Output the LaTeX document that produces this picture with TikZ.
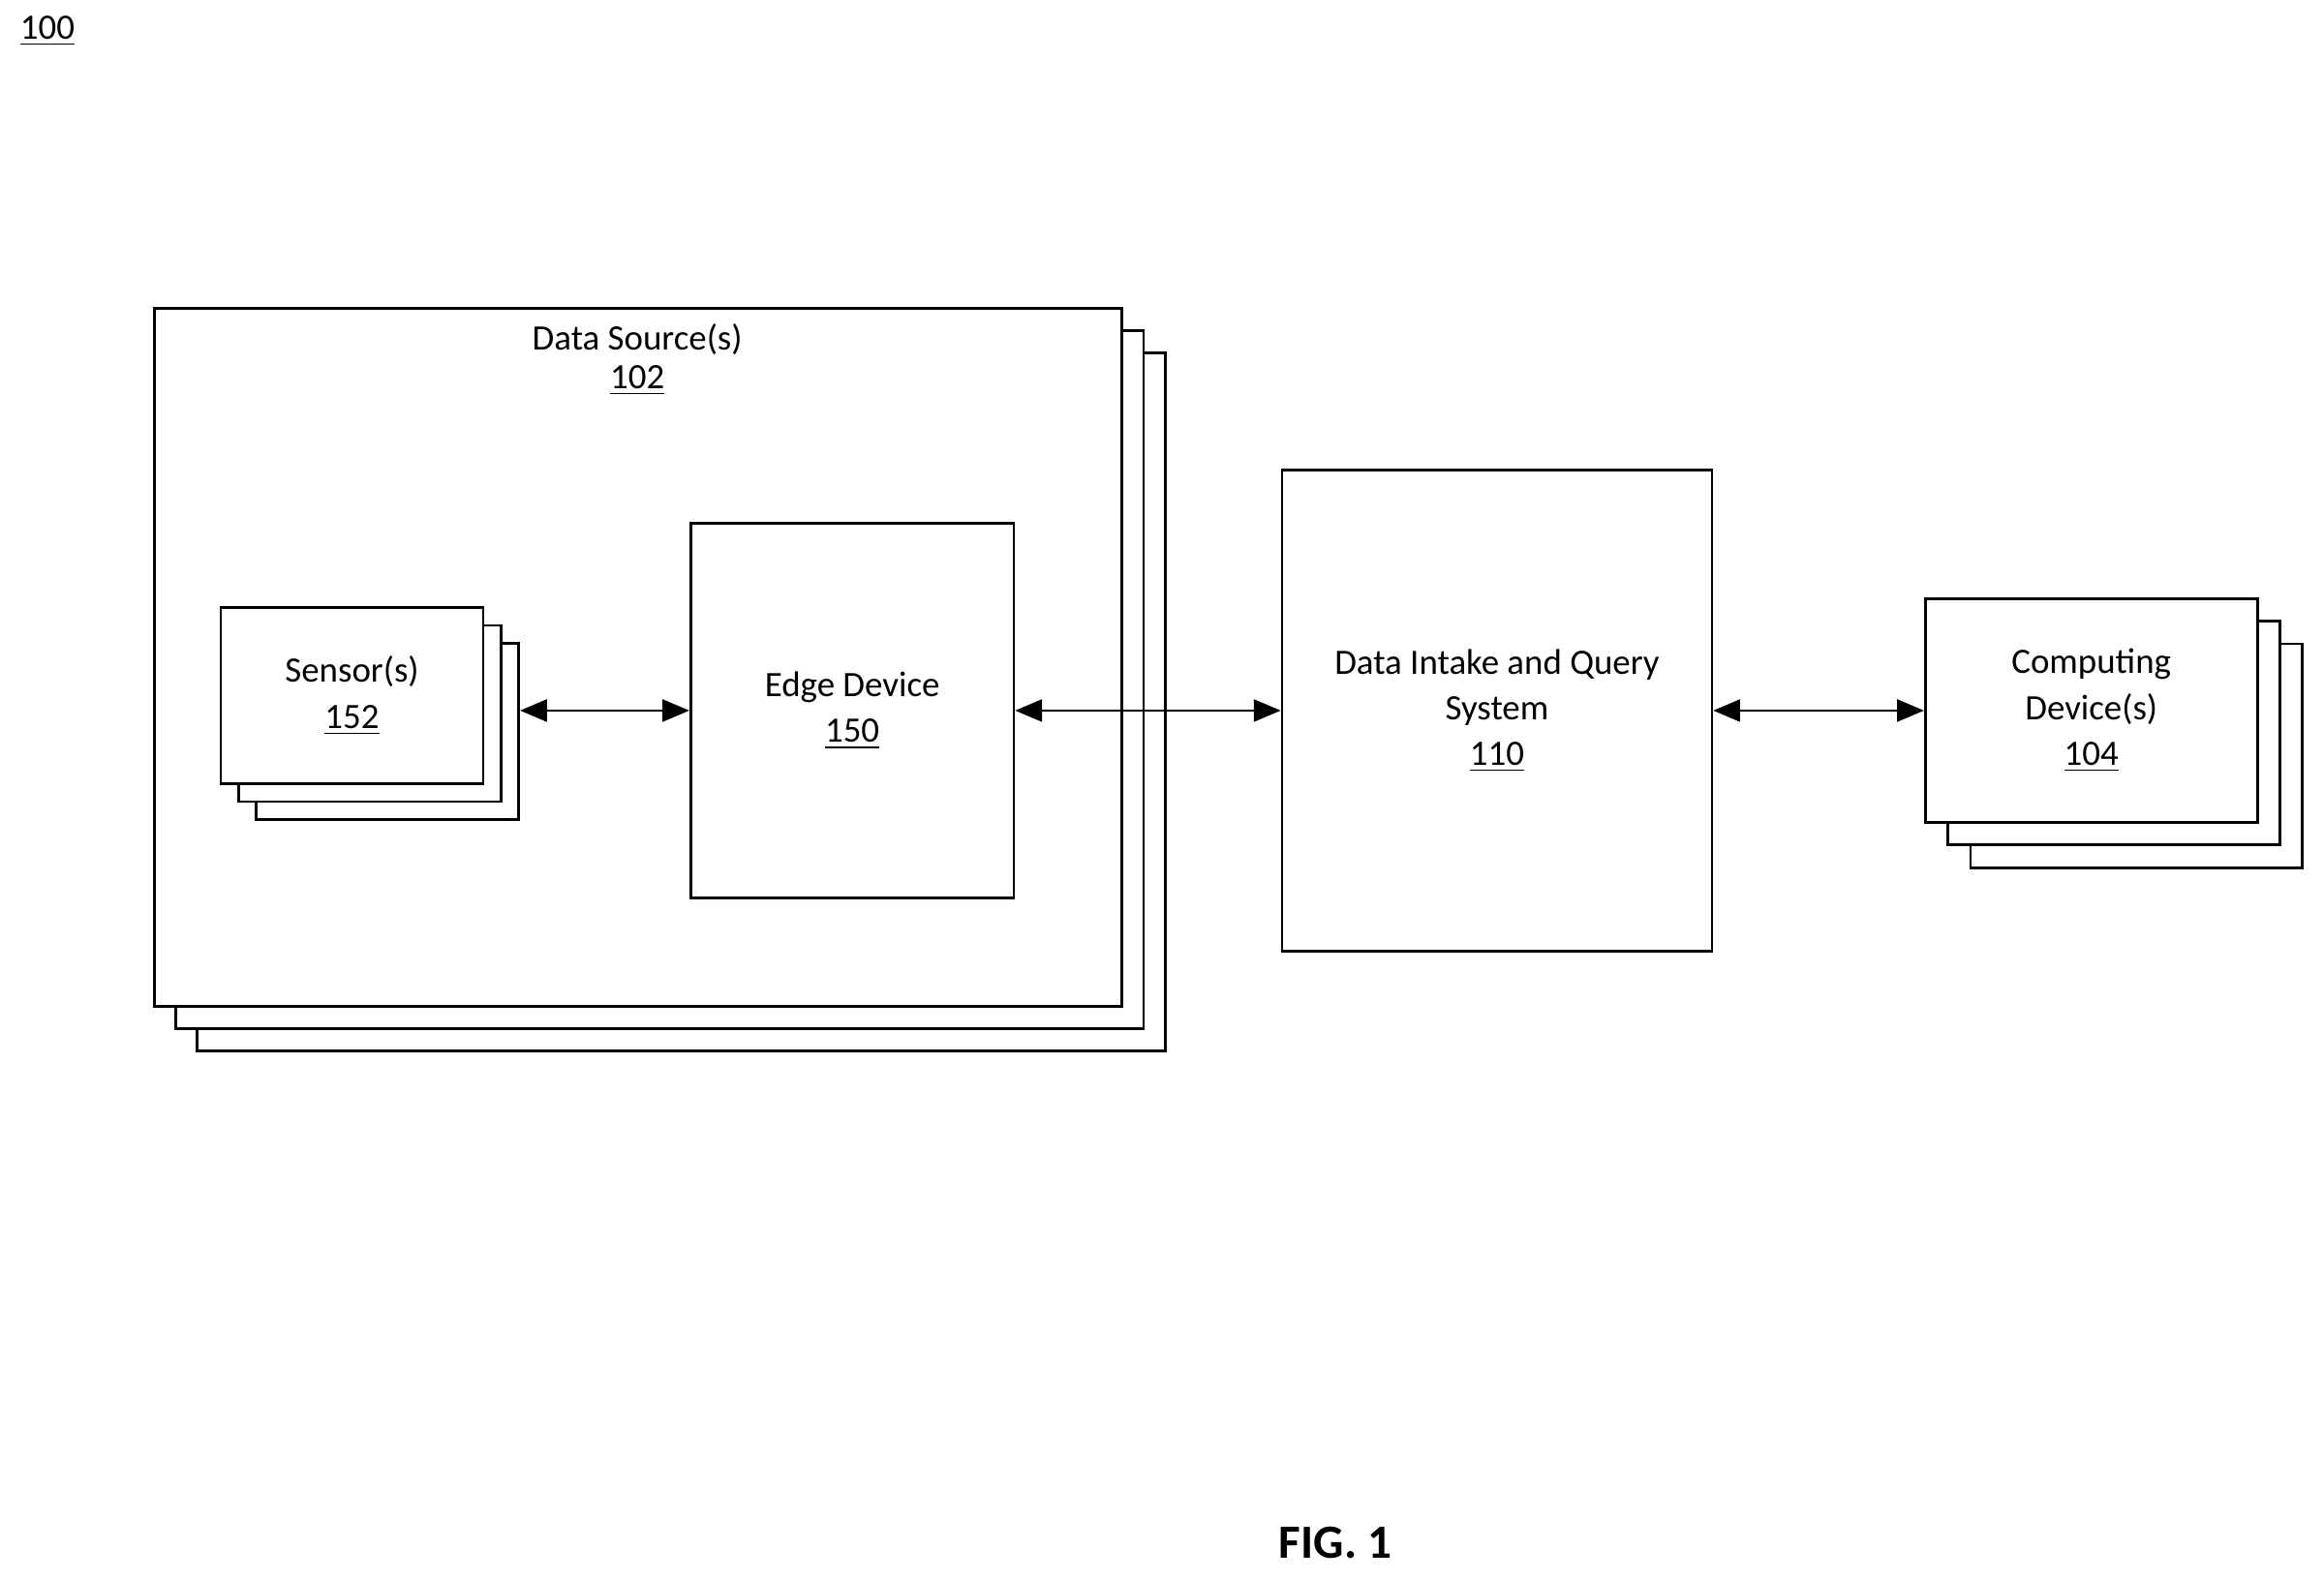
\documentclass[tikz,border=0pt]{standalone}
\usepackage{fontspec}
\setmainfont{Carlito}
\usetikzlibrary{arrows}
\usetikzlibrary{positioning}
\tikzset{font={\fontsize{10.5}{13.4}\selectfont}}
\tikzset{box/.style={rectangle, draw, line width=0.8pt, fill=white, inner sep=0pt}}
\tikzset{arr/.style={triangle 45-triangle 45, line width=0.8pt}}

\begin{document}
\begin{tikzpicture}[x=0.015306cm, y=-0.015306cm]

	\useasboundingbox (0,0) rectangle (1568,1066);

	\node (fig_num) at (32,21) {\underline{100}};

	% data sources stack
	\node (ds3) [box, minimum width=9.995cm, minimum height=7.209cm] at (459.5,473.5) {};
	\node (ds2) [box, minimum width=9.995cm, minimum height=7.209cm] at (445,458.5) {};
	\node (ds) [box, minimum width=9.995cm, minimum height=7.209cm] at (430.5,443.5) {};
	\node (ds_lbl) at (430,243) {\shortstack{Data Source(s)\\\underline{102}}};

	% sensors stack
	\node (sen3) [box, minimum width=2.709cm, minimum height=1.821cm] at (261.5,493.5) {};
	\node (sen2) [box, minimum width=2.709cm, minimum height=1.821cm] at (249.5,481.5) {};
	\node (sen) [box, minimum width=2.709cm, minimum height=1.821cm, align=center] at (237.5,469.5) {Sensor(s)\\\underline{152}};

	\node (edge) [box, minimum width=3.337cm, minimum height=3.872cm, align=center] at (575,479.5) {Edge Device\\\underline{150}};

	\node (diqs) [box, minimum width=4.439cm, minimum height=4.974cm, align=center] at (1010,479.5) {Data Intake and Query\\System\\\underline{110}};

	% computing devices stack
	\node (comp3) [box, minimum width=3.429cm, minimum height=2.311cm] at (1441.5,510) {};
	\node (comp2) [box, minimum width=3.429cm, minimum height=2.311cm] at (1426,494.5) {};
	\node (comp) [box, minimum width=3.429cm, minimum height=2.311cm, align=center] at (1411,479.5) {Computing\\Device(s)\\\underline{104}};

	\draw[arr] (sen3.east |- edge.west) -- (edge.west);
	\draw[arr] (edge.east) -- (diqs.west);
	\draw[arr] (diqs.east) -- (comp.west);

	\node (fig_lbl) at (901,1041) {\fontsize{14}{16}\selectfont\bfseries FIG. 1};

\end{tikzpicture}
\end{document}
